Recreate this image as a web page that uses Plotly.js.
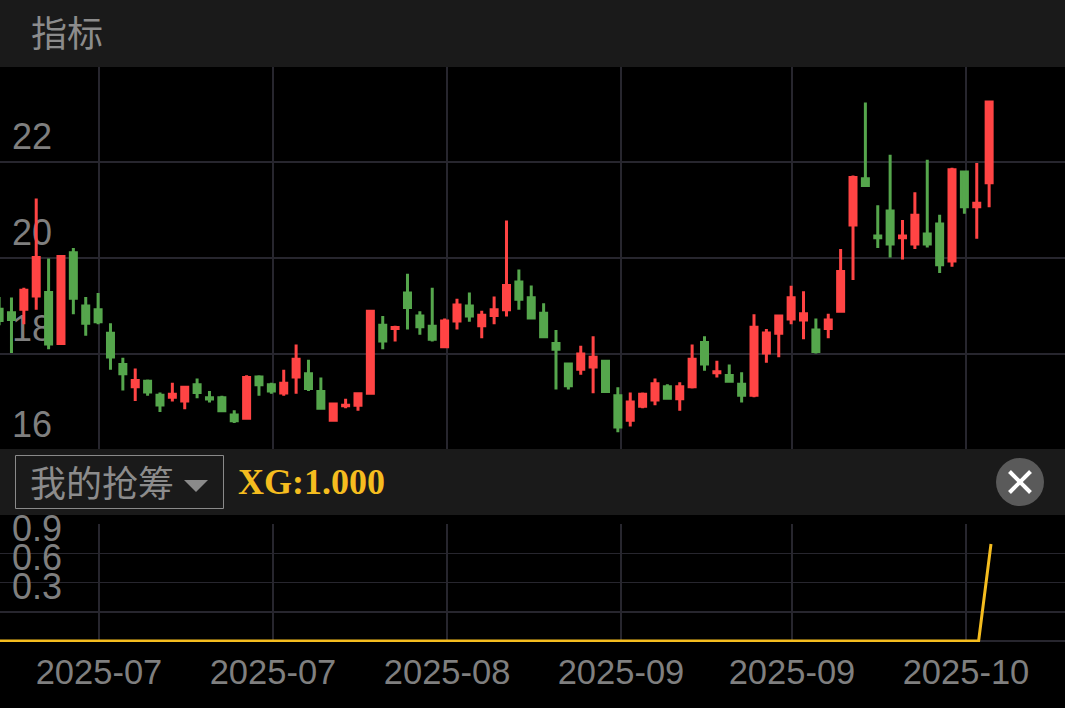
<!DOCTYPE html>
<html>
<head>
<meta charset="utf-8">
<script src="https://cdn.plot.ly/plotly-3.0.1.min.js"></script>
<style>html,body{margin:0;padding:0;background:#000;overflow:hidden}#chart{width:1065px;height:708px}</style>
</head>
<body>
<div id="chart"></div>
<script>
const highs = [19.19,19.18,19.38,21.24,19.99,20.06,20.21,19.19,19.27,18.64,17.92,17.70,17.47,17.20,17.40,17.34,17.49,17.23,17.13,16.83,17.56,17.56,17.40,17.67,18.20,17.88,17.51,16.99,17.07,17.20,18.92,18.79,18.59,19.67,18.89,19.38,18.74,19.15,19.28,18.90,19.20,20.78,19.76,19.43,19.06,18.50,17.82,18.17,18.37,17.88,17.31,17.20,17.20,17.49,17.37,17.41,18.20,18.37,17.86,17.78,17.62,18.83,18.52,18.82,19.42,19.31,18.74,18.84,20.19,21.72,23.24,21.10,22.15,20.79,21.37,22.05,20.90,21.88,21.82,21.98,23.28];
const bodyTops = [18.93,18.86,19.33,20.01,19.28,20.03,20.11,19.00,18.92,18.43,17.78,17.45,17.43,17.14,17.16,17.31,17.36,17.09,17.09,16.73,17.51,17.52,17.36,17.39,17.89,17.59,17.22,16.96,16.93,17.17,18.89,18.60,18.55,19.27,18.79,18.58,18.69,19.02,19.00,18.81,18.92,19.43,19.50,19.17,18.85,18.22,17.79,18.00,17.93,17.85,17.13,17.00,17.16,17.38,17.32,17.32,17.89,18.24,17.63,17.55,17.37,18.56,18.44,18.79,19.17,18.84,18.50,18.71,19.72,21.68,21.65,20.46,20.98,20.46,20.89,20.50,20.71,21.84,21.79,21.14,23.25];
const bodyBottoms = [18.70,18.72,18.93,19.21,18.21,18.22,19.16,18.64,18.67,17.94,17.59,17.32,17.21,16.94,17.10,17.02,17.20,17.06,16.82,16.61,16.66,17.36,17.23,17.19,17.52,17.28,16.87,16.62,16.92,16.93,17.18,18.27,18.53,18.97,18.57,18.31,18.15,18.69,18.79,18.59,18.80,18.92,19.14,18.75,18.36,18.10,17.34,17.68,17.73,17.22,16.48,16.62,16.91,17.04,17.08,17.07,17.32,17.79,17.61,17.43,17.14,17.14,18.02,18.43,18.73,18.71,18.05,18.53,18.89,20.69,21.51,20.42,20.29,20.42,20.29,20.29,19.86,19.94,21.07,21.07,21.57];
const lows = [18.60,18.02,18.62,18.92,18.10,18.19,18.83,18.38,18.62,17.67,17.24,17.02,17.13,16.79,17.01,16.85,17.08,16.99,16.79,16.56,16.63,17.13,17.17,17.13,17.17,17.23,16.84,16.59,16.87,16.82,17.15,18.10,18.26,18.51,18.40,18.26,18.12,18.51,18.67,18.33,18.62,18.78,18.92,18.72,18.33,17.26,17.26,17.57,17.18,17.19,16.37,16.49,16.87,16.93,17.05,16.82,17.28,17.65,17.51,17.40,16.99,17.10,17.82,17.93,18.62,18.31,18.01,18.33,18.86,19.54,21.48,20.21,20.01,19.97,20.19,20.22,19.69,19.82,20.92,20.40,21.06];
const candleDirections = "GGRRGRGGGGGRGGRRGGGGRGGRRGGRRRRGRGGGRRGRRRGGGGGRRGGRRRGRRGRGGRRRRRGRRRGGGRRGGRGRR";
const xgValues = [0,0,0,0,0,0,0,0,0,0,0,0,0,0,0,0,0,0,0,0,0,0,0,0,0,0,0,0,0,0,0,0,0,0,0,0,0,0,0,0,0,0,0,0,0,0,0,0,0,0,0,0,0,0,0,0,0,0,0,0,0,0,0,0,0,0,0,0,0,0,0,0,0,0,0,0,0,0,0,0,1];
const monthTickIndex = [8.07,22.13,36.2,50.25,64.07,78.13];
const monthTickLabels = ["2025-07","2025-07","2025-08","2025-09","2025-09","2025-10"];
const priceTicks = [16,18,20,22];
const xgTicks = [0,0.3,0.6,0.9,1.2];
const xgTickLabels = ["","0.3","0.6","0.9",""];

const dayIndex = highs.map((_, i) => i);
const isUp = dayIndex.map(i => candleDirections[i] === "R");
const opens = dayIndex.map(i => isUp[i] ? bodyBottoms[i] : bodyTops[i]);
const closes = dayIndex.map(i => isUp[i] ? bodyTops[i] : bodyBottoms[i]);
const xgIndex = dayIndex.map(i => i === 0 ? -1 : i + 0.15);

const RED = "#ff4444", GREEN = "#55a64c", YELLOW = "#f5bd1f", GRID = "#27262e", TXT = "#7f7f7f", PANEL = "#1a1a1a";
const W = 1065, H = 708;
const py = y => 1 - y / H;
const sansFont = '"Liberation Sans", Arial, sans-serif';
const cjkFont = '"Noto Sans CJK SC", sans-serif';

const traces = [
  {type:"candlestick", x:dayIndex, open:opens, high:highs, low:lows, close:closes, xaxis:"x", yaxis:"y",
   increasing:{line:{color:RED,width:3},fillcolor:RED}, decreasing:{line:{color:GREEN,width:3},fillcolor:GREEN},
   whiskerwidth:0, showlegend:false, hoverinfo:"skip"},
  {type:"scatter", mode:"lines", x:xgIndex, y:xgValues, xaxis:"x", yaxis:"y2",
   line:{color:YELLOW,width:3}, showlegend:false, hoverinfo:"skip"}
];

const paperRect = (x0,y0,x1,y1,fill,lineColor,layer) => ({type:"rect",xref:"paper",yref:"paper",x0:x0/W,x1:x1/W,y0:py(y1),y1:py(y0),
  fillcolor:fill,line:{color:lineColor||fill,width:lineColor?1:0},layer:layer||"above"});

const layout = {
  width:W, height:H, paper_bgcolor:"#000", plot_bgcolor:"#000",
  margin:{l:0,r:0,t:0,b:0}, showlegend:false, boxgap:0.515, boxgroupgap:0,
  xaxis:{domain:[0,1], anchor:"y2", range:[0.073,86.13], rangeslider:{visible:false}, tickmode:"array",
    tickvals:monthTickIndex, ticktext:monthTickLabels, tickfont:{family:sansFont,size:34.5,color:TXT},
    tickangle:0, ticks:"", showgrid:true, gridcolor:GRID, gridwidth:1.4, zeroline:false, showline:false, ticklabelstandoff:6},
  yaxis:{domain:[py(452),py(67)], anchor:"x", range:[15.9583,23.98], tickmode:"array", tickvals:priceTicks,
    tickfont:{family:sansFont,size:36,color:TXT}, ticklabelposition:"inside top", ticklabeloverflow:"allow", ticklabelstandoff:9, layer:"below traces",
    showgrid:true, gridcolor:GRID, gridwidth:1.4, zeroline:false, showline:false, ticks:""},
  yaxis2:{domain:[py(642),py(524)], anchor:"x", range:[-0.0103,1.206], tickmode:"array", tickvals:xgTicks, ticktext:xgTickLabels,
    tickfont:{family:sansFont,size:36,color:TXT}, ticklabelposition:"inside top", ticklabeloverflow:"allow", ticklabelstandoff:9, layer:"below traces",
    showgrid:true, gridcolor:GRID, gridwidth:1.4, zeroline:false, showline:false, ticks:""},
  shapes:[
    paperRect(0,0,W,67,PANEL),
    paperRect(0,449,W,515,PANEL),
    paperRect(15.5,455.5,223.5,508.5,"rgba(0,0,0,0)","#8a8a8a"),
    {type:"path",xref:"paper",yref:"paper",fillcolor:"#8a8a8a",line:{width:0},
      path:`M ${184/W} ${py(480)} L ${208/W} ${py(480)} L ${196/W} ${py(492)} Z`},
    {type:"circle",xref:"paper",yref:"paper",x0:996/W,x1:1044/W,y0:py(506),y1:py(458),fillcolor:"#5a5a5a",line:{width:0}},
    {type:"line",xref:"paper",yref:"paper",x0:1009.5/W,x1:1030.5/W,y0:py(471.5),y1:py(492.5),line:{color:"#fff",width:4}},
    {type:"line",xref:"paper",yref:"paper",x0:1009.5/W,x1:1030.5/W,y0:py(492.5),y1:py(471.5),line:{color:"#fff",width:4}}
  ],
  annotations:[
    {xref:"paper",yref:"paper",x:28.5/W,y:py(31),xanchor:"left",yanchor:"middle",showarrow:false,text:"指标",
      font:{family:cjkFont,size:36,color:"#8c8c8c"}},
    {xref:"paper",yref:"paper",x:27.5/W,y:py(481),xanchor:"left",yanchor:"middle",showarrow:false,text:"我的抢筹",
      font:{family:cjkFont,size:36,color:"#8c8c8c"}},
    {xref:"paper",yref:"paper",x:236/W,y:py(482),xanchor:"left",yanchor:"middle",showarrow:false,text:"<b>XG:1.000</b>",
      font:{family:'"Liberation Serif", serif',size:36,color:YELLOW}}
  ]
};
Plotly.newPlot("chart", traces, layout, {staticPlot:true, displayModeBar:false});
</script>
</body>
</html>
